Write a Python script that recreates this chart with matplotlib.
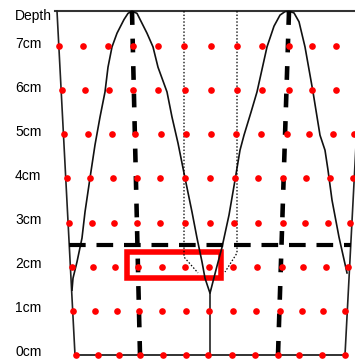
import matplotlib
matplotlib.use("Agg")
import matplotlib.pyplot as plt
from matplotlib.patches import Rectangle

plt.rcParams['font.family'] = ['Liberation Sans', 'DejaVu Sans']

# ---- data (x in drawing units, depth in cm) ----
depth_labels = ["0cm", "1cm", "2cm", "3cm", "4cm", "5cm", "6cm", "7cm"]
depth_values = [0, 1, 2, 3, 4, 5, 6, 7]
top_depth = 7.79

row_x = {
    7: [59, 83, 108, 133, 158, 184, 211, 237, 262, 289, 312, 336],
    6: [62, 85, 109, 133, 158, 185, 211, 237, 262, 289, 312, 336],
    5: [64, 88, 112, 135, 161, 186, 211, 236, 261, 287, 309, 333, 354],
    4: [67, 90, 113, 137, 160, 185, 210, 235, 258, 283, 306, 330, 353],
    3: [69, 92, 114, 137, 160, 185, 210, 234, 258, 283, 305, 328, 350],
    2: [72, 93, 115, 138, 162, 185, 209, 233, 257, 282, 303, 326, 348],
    1: [73, 95, 117, 139, 162, 186, 209, 233, 256, 280, 302, 323, 345],
    0: [76, 98, 119, 140, 163, 186, 208, 232, 255, 278, 299, 322, 345],
}

# wave curve (x, depth)
wave_x = [72, 73, 77, 82, 85, 90, 95, 100, 105, 108, 112, 117, 124, 128, 132,
          137, 147, 153, 158, 167, 172, 178, 185, 192, 197, 202, 205, 210,
          216, 222, 229, 235, 240, 244, 251, 257, 267, 274, 280, 285, 289, 294, 299,
          305, 313, 320, 325, 328, 332, 339, 347]
wave_d = [1.47, 1.74, 2.11, 2.65, 3.24, 4.01, 4.76, 5.39, 5.96, 6.52, 6.98, 7.29, 7.60, 7.74, 7.79,
          7.74, 7.29, 6.98, 6.52, 5.96, 5.39, 4.80, 4.01, 3.24, 2.65, 2.11, 1.74, 1.40,
          1.93, 2.44, 3.17, 3.96, 4.64, 4.98, 5.50, 5.96, 6.98, 7.45, 7.70, 7.78, 7.79, 7.75, 7.55,
          6.98, 5.96, 4.98, 4.64, 4.19, 3.51, 2.67, 1.86]

left_edge_x = [57, 75]
left_edge_d = [top_depth, 0]
right_edge_x = [345, 363]
right_edge_d = [0, top_depth]
trough_x = [210, 210]
trough_d = [1.40, 0]

dash_v1_x = [132, 140]
dash_v2_x = [289, 278]
dash_v_d = [top_depth, 0]
dash_h_x = [69, 351]
dash_h_d = 2.5

dot1_x = [184, 184, 198]
dot1_d = [top_depth, 2.22, 1.86]
dot2_x = [237, 237, 225]
dot2_d = [top_depth, 2.31, 1.88]

rect_x0, rect_x1 = 126.5, 221
rect_d0, rect_d1 = 1.74, 2.33

# ---- figure ----
fig = plt.figure(figsize=(3.55, 3.6), dpi=100)
ax = fig.add_axes([0, 0, 1, 1])
px_per_cm = 44.14
ax.set_xlim(0, 355)
ax.set_ylim(-5 / px_per_cm, 355 / px_per_cm)
ax.axis('off')

# frame lines
ax.plot([55, 355], [top_depth, top_depth], color='#333333', lw=1.5, zorder=3)
ax.plot([75, 345], [0, 0], color='#222222', lw=1.3, zorder=3)
ax.plot(left_edge_x, left_edge_d, color='#222222', lw=1.2, zorder=3)
ax.plot(right_edge_x, right_edge_d, color='#222222', lw=1.2, zorder=3)
ax.plot(trough_x, trough_d, color='#222222', lw=1.2, zorder=3)

# wave
ax.plot(wave_x, wave_d, color='#111111', lw=1.2, zorder=3)

# thin dotted lines
ax.plot(dot1_x, dot1_d, color='black', lw=0.9, ls=(0, (1.2, 1.5)), zorder=3)
ax.plot(dot2_x, dot2_d, color='black', lw=0.9, ls=(0, (1.2, 1.5)), zorder=3)

# thick dashed lines
ax.plot(dash_v1_x, dash_v_d, color='black', lw=3.3, ls=(0, (3, 3)), zorder=3,
        dash_capstyle='butt')
ax.plot(dash_v2_x, dash_v_d, color='black', lw=3.3, ls=(0, (3, 3)), zorder=3,
        dash_capstyle='butt')
ax.plot(dash_h_x, [dash_h_d, dash_h_d], color='black', lw=3.0, ls=(0, (4, 2.6)),
        zorder=3, dash_capstyle='butt')

# red rectangle
ax.add_patch(Rectangle((rect_x0, rect_d0), rect_x1 - rect_x0, rect_d1 - rect_d0,
                       fill=False, edgecolor='#ff0000', lw=4.0, zorder=2.5))

# dots
for d, xs in row_x.items():
    ax.plot(xs, [d] * len(xs), 'o', color='#ff0000', ms=4.8, mew=0, zorder=4)

# labels
label_shift = 2.5 / px_per_cm
for lab, d in zip(depth_labels, depth_values):
    ax.text(15, d + label_shift, lab, fontsize=10, ha='left', va='center', color='black')
ax.text(15, 7.68, "Depth", fontsize=10, ha='left', va='center', color='black')

fig.savefig("out.png", dpi=100)
